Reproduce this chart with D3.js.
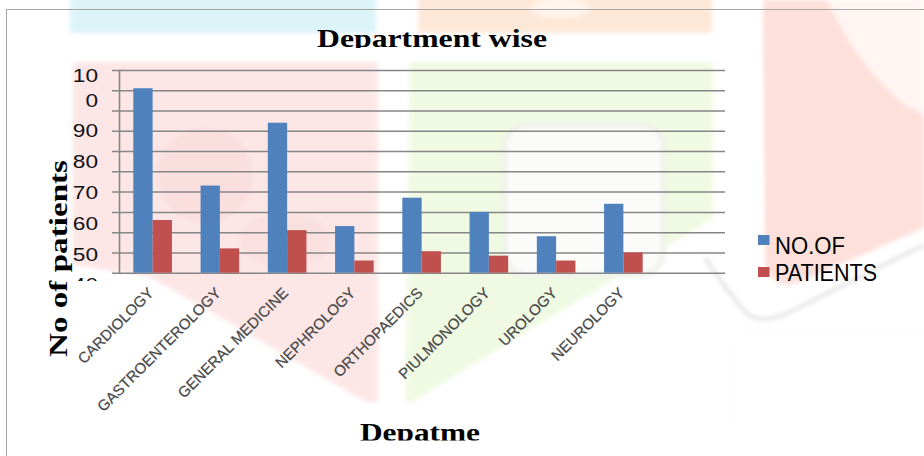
<!DOCTYPE html>
<html>
<head>
<meta charset="utf-8">
<script src="https://cdn.jsdelivr.net/npm/d3@7"></script>
<style>
  html, body { margin: 0; padding: 0; background: #ffffff; }
  svg { display: block; }
</style>
</head>
<body>
<svg id="chart" width="924" height="456"></svg>
<script>
// Department-wise patient counts
const categories = ["CARDIOLOGY", "GASTROENTEROLOGY", "GENERAL MEDICINE", "NEPHROLOGY",
                    "ORTHOPAEDICS", "PIULMONOLOGY", "UROLOGY", "NEUROLOGY"];
const seriesNames = ["NO.OF", "PATIENTS"];
const noOfValues = [91, 43, 74, 23, 37, 30, 18, 34];
const patientValues = [26, 12, 21, 6, 10.6, 8.4, 6, 10];
const gridValues = [0, 10, 20, 30, 40, 50, 60, 70, 80, 90, 100];
const tickLabels = ["100", "90", "80", "70", "60", "50", "40"];
const colors = ["#4F81BD", "#C0504D"];

const svg = d3.select("#chart");
const defs = svg.append("defs");
defs.append("filter").attr("id", "soft")
  .append("feGaussianBlur").attr("stdDeviation", 2);
defs.append("clipPath").attr("id", "clipTitle")
  .append("rect").attr("x", 0).attr("y", 0).attr("width", 924).attr("height", 48);
defs.append("clipPath").attr("id", "clipXTitle")
  .append("rect").attr("x", 0).attr("y", 400).attr("width", 924).attr("height", 40.5);
defs.append("clipPath").attr("id", "clipYLabels")
  .append("rect").attr("x", 0).attr("y", 0).attr("width", 924).attr("height", 281);

// faint background artwork
const bg = svg.append("g").attr("filter", "url(#soft)");
bg.append("rect").attr("x", 70).attr("y", -5).attr("width", 306).attr("height", 38).attr("fill", "#dcf3f8");
bg.append("rect").attr("x", 418).attr("y", -5).attr("width", 294).attr("height", 38).attr("fill", "#fde8d8");
bg.append("ellipse").attr("cx", 560).attr("cy", 8).attr("rx", 30).attr("ry", 10).attr("fill", "#fff4ec");
bg.append("path").attr("d", "M73,62 L378,62 L378,402 L366,402 L150,277 L73,265 Z").attr("fill", "#fde6e6");
bg.append("circle").attr("cx", 205).attr("cy", 175).attr("r", 48).attr("fill", "#fbdfdf");
bg.append("ellipse").attr("cx", 285).attr("cy", 240).attr("rx", 45).attr("ry", 28).attr("fill", "#fbe0e0");
bg.append("path").attr("d", "M410,62 L713,62 L713,219 L412,402 L405,402 Z").attr("fill", "#f0fae3");
bg.append("rect").attr("x", 505).attr("y", 125).attr("width", 158).attr("height", 150).attr("rx", 22)
  .attr("fill", "#fbfcfa").attr("stroke", "#eef1ea").attr("stroke-width", 5);
bg.append("path").attr("d", "M763,0 L924,0 L924,228 L800,282 Q772,292 765,262 Z").attr("fill", "#fde0da");
bg.append("path").attr("d", "M827,0 Q860,70 905,105 L924,115 L924,0 Z").attr("fill", "#fff5f3");
bg.append("path").attr("d", "M705,258 Q725,288 745,312 Q760,326 790,312 L924,245")
  .attr("fill", "none").attr("stroke", "#e2e2e2").attr("stroke-width", 3.5);
bg.append("rect").attr("x", 735).attr("y", 335).attr("width", 200).attr("height", 100)
  .attr("fill", "none").attr("stroke", "#ececec").attr("stroke-dasharray", "1,4");

// chart frame
svg.append("rect").attr("x", 6.5).attr("y", 9.5).attr("width", 1000).attr("height", 1000)
  .attr("fill", "none").attr("stroke", "#a6a6a6").attr("stroke-width", 1);

// scales
const plotLeft = 119, plotRight = 657, gridRight = 725;
const x = d3.scaleBand().domain(categories).range([plotLeft, plotRight])
  .paddingInner(0.426).paddingOuter(0.213);
const xs = d3.scaleBand().domain(seriesNames).range([0, x.bandwidth()]);
const y = d3.scaleLinear().domain([0, 100]).range([272.7, 70]);
const labelY = d3.scaleLinear().domain([40, 90]).range([284.5, 130.5]);

// gridlines and value axis
const yAxis = svg.append("g").attr("transform", `translate(${plotLeft},0)`)
  .call(d3.axisLeft(y).tickValues(gridValues).tickSizeInner(-(gridRight - plotLeft)).tickSizeOuter(0).tickFormat(""));
yAxis.select(".domain").attr("stroke", "#868686").attr("stroke-width", 1.6);
yAxis.selectAll(".tick line").attr("x1", -7).attr("stroke", "#868686").attr("stroke-width", 1.5);

// bars
const groups = svg.append("g").selectAll("g").data(categories).join("g")
  .attr("transform", d => `translate(${x(d)},0)`);
groups.selectAll("rect")
  .data((d, i) => [
    { key: seriesNames[0], v: noOfValues[i] },
    { key: seriesNames[1], v: patientValues[i] }
  ])
  .join("rect")
  .attr("x", d => xs(d.key))
  .attr("width", xs.bandwidth())
  .attr("y", d => y(d.v))
  .attr("height", d => y(0) - y(d.v))
  .attr("fill", (d, i) => colors[i]);

// value labels beside the axis
const yl = svg.append("g").attr("clip-path", "url(#clipYLabels)")
  .attr("font-family", "'Liberation Sans', Arial, sans-serif").attr("font-size", 19).attr("fill", "#111");
tickLabels.forEach(t => {
  const v = +t;
  const lines = t.length > 2 ? [t.slice(0, 2), t.slice(2)] : [t];
  lines.forEach((ln, k) => {
    const yy = labelY(v) - (lines.length - 1 - k) * 25 + 6.8;
    yl.append("text").attr("x", 98).attr("y", yy).attr("text-anchor", "end")
      .attr("textLength", ln.length * 12.6).attr("lengthAdjust", "spacingAndGlyphs").text(ln);
  });
});

// category labels
svg.append("g").selectAll("text").data(categories).join("text")
  .attr("transform", d => `translate(${x(d) + x.bandwidth() / 2 + 2},294) rotate(-45)`)
  .attr("text-anchor", "end")
  .attr("font-family", "'Liberation Sans', Arial, sans-serif")
  .attr("font-size", 15).attr("fill", "#4a4a4a")
  .attr("stroke", "#4a4a4a").attr("stroke-width", 0.25)
  .text(d => d);

// titles
svg.append("text").attr("clip-path", "url(#clipTitle)")
  .attr("x", 317).attr("y", 47)
  .attr("font-family", "'Liberation Serif', 'Times New Roman', serif").attr("font-weight", "bold")
  .attr("font-size", 26).attr("fill", "#000")
  .attr("textLength", 230).attr("lengthAdjust", "spacingAndGlyphs")
  .text("Department wise");

svg.append("text").attr("clip-path", "url(#clipXTitle)")
  .attr("x", 360).attr("y", 440.5)
  .attr("font-family", "'Liberation Serif', 'Times New Roman', serif").attr("font-weight", "bold")
  .attr("font-size", 26).attr("fill", "#000")
  .attr("textLength", 120).attr("lengthAdjust", "spacingAndGlyphs")
  .text("Depatme");

svg.append("text")
  .attr("transform", "translate(67,357) rotate(-90)")
  .attr("font-family", "'Liberation Serif', 'Times New Roman', serif").attr("font-weight", "bold")
  .attr("font-size", 26).attr("fill", "#000")
  .attr("textLength", 197).attr("lengthAdjust", "spacingAndGlyphs")
  .text("No of patients");

// legend
const legend = svg.append("g").attr("font-family", "'Liberation Sans', Arial, sans-serif")
  .attr("font-size", 23).attr("fill", "#000");
const legendWidths = [70, 102];
seriesNames.forEach((s, i) => {
  const top = 235 + i * 32;
  legend.append("rect").attr("x", 758).attr("y", top).attr("width", 11.5).attr("height", 10).attr("fill", colors[i]);
  legend.append("text").attr("x", 775).attr("y", 254 + i * 27)
    .attr("textLength", legendWidths[i]).attr("lengthAdjust", "spacingAndGlyphs").text(s);
});
</script>
</body>
</html>
